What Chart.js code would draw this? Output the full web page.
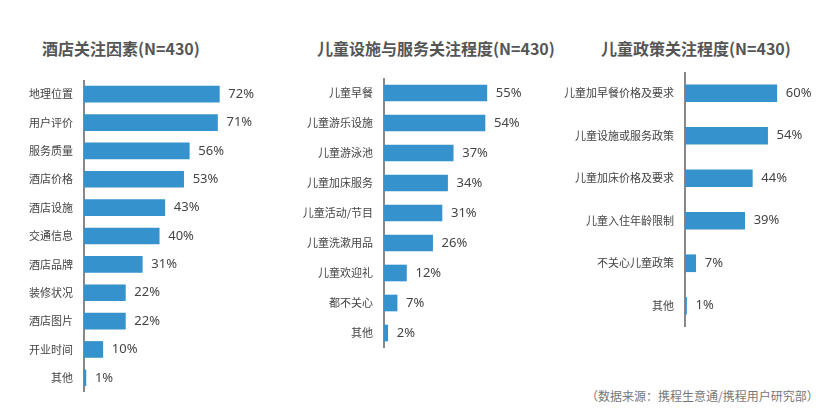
<!DOCTYPE html>
<html>
<head>
<meta charset="utf-8">
<script src="https://cdn.jsdelivr.net/npm/chart.js@4/dist/chart.umd.min.js"></script>
<style>
  body { margin: 0; background: #fff; width: 838px; height: 413px; position: relative; overflow: hidden;
         font-family: "Noto Sans CJK SC", "Noto Sans", sans-serif; }
  .title { position: absolute; top: 36px; font-size: 16px; font-weight: bold; color: #555; white-space: nowrap; }
  .box { position: absolute; }
  .source { position: absolute; left: 586px; top: 387px; font-size: 12px; color: #777; white-space: nowrap; }
</style>
</head>
<body>
<div class="title" style="left:42px">酒店关注因素(N=430)</div>
<div class="title" style="left:317px">儿童设施与服务关注程度(N=430)</div>
<div class="title" style="left:601px">儿童政策关注程度(N=430)</div>

<div class="box" style="left:0px;top:80px;width:272px;height:312px"><canvas id="c1"></canvas></div>
<div class="box" style="left:290px;top:78px;width:281px;height:270px"><canvas id="c2"></canvas></div>
<div class="box" style="left:560px;top:72px;width:278px;height:255px"><canvas id="c3"></canvas></div>

<div class="source">（数据来源：携程生意通/携程用户研究部）</div>

<script>
// 酒店关注因素
const hotelLabels = ['地理位置', '用户评价', '服务质量', '酒店价格', '酒店设施', '交通信息', '酒店品牌', '装修状况', '酒店图片', '开业时间', '其他'];
const hotelValues = [72, 71, 56, 53, 43, 40, 31, 22, 22, 10, 1];

// 儿童设施与服务
const facilityLabels = ['儿童早餐', '儿童游乐设施', '儿童游泳池', '儿童加床服务', '儿童活动/节目', '儿童洗漱用品', '儿童欢迎礼', '都不关心', '其他'];
const facilityValues = [55, 54, 37, 34, 31, 26, 12, 7, 2];

// 儿童政策
const policyLabels = ['儿童加早餐价格及要求', '儿童设施或服务政策', '儿童加床价格及要求', '儿童入住年龄限制', '不关心儿童政策', '其他'];
const policyValues = [60, 54, 44, 39, 7, 1];

const barColor = '#3592cc';

// 在柱子右边写百分比
const valueLabels = {
    id: 'valueLabels',
    afterDatasetsDraw(chart) {
        const ctx = chart.ctx;
        const meta = chart.getDatasetMeta(0);
        ctx.save();
        ctx.font = '13px "Noto Sans", "DejaVu Sans", sans-serif';
        ctx.fillStyle = '#444';
        ctx.textAlign = 'left';
        ctx.textBaseline = 'middle';
        meta.data.forEach((bar, i) => {
            ctx.fillText(chart.data.datasets[0].data[i] + '%', bar.x + 9, bar.y);
        });
        ctx.restore();
    }
};

function makeChart(id, labels, values, axisWidth, barH) {
    return new Chart(document.getElementById(id), {
        type: 'bar',
        data: {
            labels: labels,
            datasets: [{ data: values, backgroundColor: barColor, barThickness: barH }]
        },
        options: {
            indexAxis: 'y',
            responsive: true,
            maintainAspectRatio: false,
            animation: false,
            layout: { padding: 0 },
            plugins: { legend: { display: false }, tooltip: { enabled: false } },
            scales: {
                x: { display: false, min: 0, max: 100 },
                y: {
                    grid: { display: false, drawTicks: false },
                    border: { display: true, color: '#888', width: 2 },
                    ticks: {
                        color: '#444',
                        padding: 11,
                        font: { size: 11, family: '"Noto Sans CJK SC", sans-serif' }
                    },
                    // 轴线贴着容器上下边
                    afterFit: s => { s.width = axisWidth; s.paddingTop = 0; s.paddingBottom = 0; }
                }
            }
        },
        plugins: [valueLabels]
    });
}

makeChart('c1', hotelLabels, hotelValues, 84, 16);
makeChart('c2', facilityLabels, facilityValues, 94, 16);
makeChart('c3', policyLabels, policyValues, 125, 17);
</script>
</body>
</html>
